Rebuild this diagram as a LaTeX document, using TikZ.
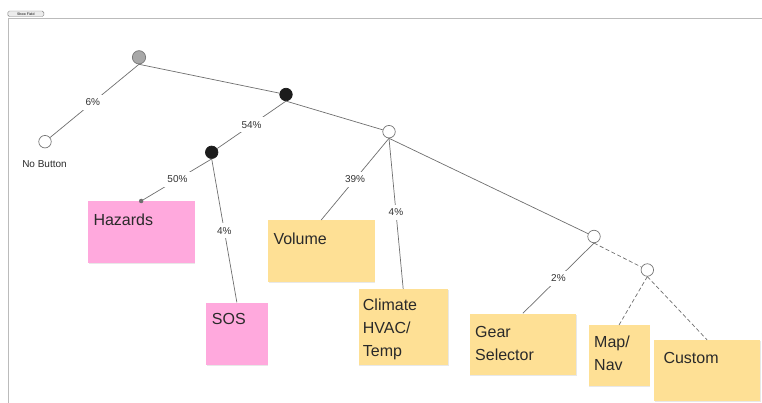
\documentclass[tikz,border=0pt]{standalone}
\usepackage{fontspec}
\setmainfont{Liberation Sans}
\usetikzlibrary{shadows}
\definecolor{linegray}{HTML}{6E6E6E}
\definecolor{circgray}{HTML}{777777}
\definecolor{rootfill}{HTML}{A8A8A8}
\definecolor{blackfill}{HTML}{1C1C1C}
\definecolor{pinkc}{HTML}{FFA9DD}
\definecolor{yellowc}{HTML}{FEE095}
\definecolor{txtc}{HTML}{2A2A2A}
\definecolor{lblc}{HTML}{333333}
\definecolor{framec}{HTML}{BBBBBB}
\begin{document}
\begin{tikzpicture}[x=1pt,y=-1pt,
  conn/.style={draw=linegray, line width=0.7pt},
  dconn/.style={conn, dash pattern=on 4pt off 2.5pt},
  pct/.style={fill=white, text=lblc, inner xsep=3pt, inner ysep=4pt, font=\fontsize{10}{12}\selectfont},
  bnode/.style={circle, draw=circgray, line width=0.7pt, minimum size=12.5pt, inner sep=0pt, fill=white},
  sticky/.style={rectangle, anchor=north west, inner sep=0pt, drop shadow={opacity=0.18, shadow xshift=0.6pt, shadow yshift=-1.2pt}},
  stext/.style={anchor=north west, inner sep=0pt, align=left, text=txtc, font=\fontsize{16}{22.7}\selectfont}
]
\useasboundingbox (0,0) rectangle (762,403);
% frame
\draw[framec, line width=0.9pt] (8.3,403) -- (8.3,18.3) -- (762,18.3);
\node[draw=gray, fill=gray!15, rounded corners=1.5pt, line width=0.4pt, minimum width=36pt, minimum height=5.5pt, inner sep=0pt, font=\fontsize{3.5}{4}\selectfont] (btn) at (25.8,13.8) {Show Field};

% boxes
\node[sticky, fill=pinkc, minimum width=106.6pt, minimum height=61.7pt] (haz) at (87.7,201) {};
\node[sticky, fill=pinkc, minimum width=61.3pt, minimum height=62pt] (sos) at (206,302.3) {};
\node[sticky, fill=yellowc, minimum width=106.6pt, minimum height=61.7pt] (vol) at (267.7,220) {};
\node[sticky, fill=yellowc, minimum width=89.4pt, minimum height=75.3pt] (cli) at (358.3,289) {};
\node[sticky, fill=yellowc, minimum width=106.7pt, minimum height=61.7pt] (gear) at (469.3,313.3) {};
\node[sticky, fill=yellowc, minimum width=61pt, minimum height=61pt] (map) at (588.3,325) {};
\node[sticky, fill=yellowc, minimum width=106pt, minimum height=61pt] (cus) at (654,340) {};

\node[stext] (hazt) at (93.3,213.3) {Hazards};
\node[stext] (sost) at (211.7,313.3) {SOS};
\node[stext] (volt) at (273.3,232.3) {Volume};
\node[stext] (clit) at (362.7,299) {Climate\\HVAC/\\Temp};
\node[stext] (geart) at (475,326) {Gear\\Selector};
\node[stext] (mapt) at (594,336) {Map/\\Nav};
\node[stext] (cust) at (663.3,351.7) {Custom};

% decision nodes
\node[bnode, fill=rootfill, minimum size=13.3pt] (root) at (139,57.3) {};
\node[bnode] (nob) at (45,141.7) {};
\node[bnode, fill=blackfill, draw=blackfill] (a) at (286,94.5) {};
\node[bnode, fill=blackfill, draw=blackfill] (b) at (211.7,152.3) {};
\node[bnode] (c) at (389,131.7) {};
\node[bnode] (d) at (594,236.5) {};
\node[bnode] (e) at (647.3,270) {};
\node[font=\fontsize{10}{12}\selectfont, text=txtc] (nobl) at (44.5,164) {No Button};
\node[circle, fill=linegray, minimum size=4.5pt, inner sep=0pt] (hdot) at (haz.north) {};

% connectors
\draw[conn] (root.south) -- node[pct, pos=0.52] (l6) {6\%} (nob);
\draw[conn] (root.south) -- (a);
\draw[conn] (a.south) -- node[pct, pos=0.5] (l54) {54\%} (b);
\draw[conn] (a.south) -- (c);
\draw[conn] (b.south) -- node[pct, pos=0.5] (l50) {50\%} (hdot);
\draw[conn] (b.south) -- node[pct, pos=0.5] (l4a) {4\%} (sos.north);
\draw[conn] (c.south) -- node[pct, pos=0.5] (l39) {39\%} (vol.north);
\draw[conn] (c.south) -- node[pct, pos=0.49] (l4b) {4\%} (cli.north);
\draw[conn] (c.south) -- (d);
\draw[conn] (d.south) -- node[pct, pos=0.5] (l2) {2\%} (gear.north);
\draw[dconn] (d.south) -- (e);
\draw[dconn] (e.south) -- (map.north);
\draw[dconn] (e.south) -- (cus.north);
\end{tikzpicture}
\end{document}
